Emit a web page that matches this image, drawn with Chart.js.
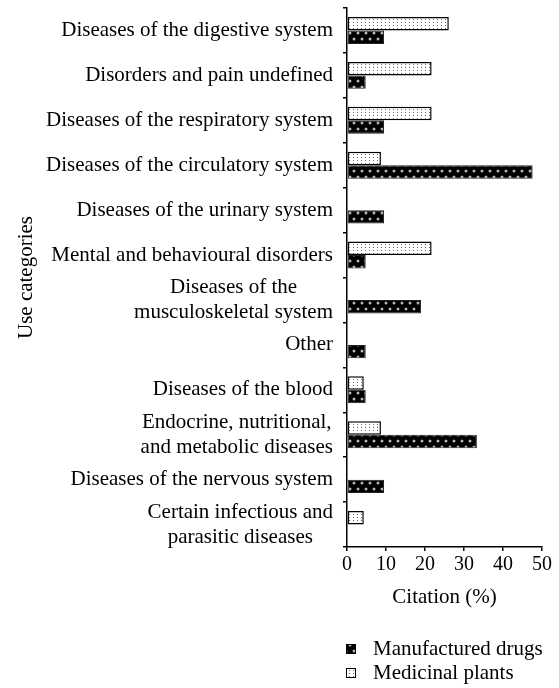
<!DOCTYPE html>
<html>
<head>
<meta charset="utf-8">
<script src="https://cdn.jsdelivr.net/npm/chart.js@4"></script>
<style>
    html, body { margin: 0; padding: 0; background: #fff; }
    #wrap { width: 559px; height: 688px; }
</style>
</head>
<body>
<div id="wrap"><canvas id="useChart" width="559" height="688"></canvas></div>
<script>
    // Data (citation %)
    var categories = [
        'Diseases of the digestive system',
        'Disorders and pain undefined',
        'Diseases of the respiratory system',
        'Diseases of the circulatory system',
        'Diseases of the urinary system',
        'Mental and behavioural disorders',
        ['Diseases of the', 'musculoskeletal system'],
        'Other',
        'Diseases of the blood',
        ['Endocrine, nutritional,', 'and metabolic diseases'],
        'Diseases of the nervous system',
        ['Certain infectious and', 'parasitic diseases']
    ];
    var manufacturedDrugs = [9.5, 4.8, 9.5, 47.6, 9.5, 4.8, 19.0, 4.8, 4.8, 33.3, 9.5, 0];
    var medicinalPlants = [26.1, 21.7, 21.7, 8.7, 0, 21.7, 0, 0, 4.3, 8.7, 0, 4.3];
    var xTicks = [0, 10, 20, 30, 40, 50];

    var FONT = '"Liberation Serif", "DejaVu Serif", serif';

    // Hatch patterns
    function makeDrugPattern(ctx) {
        var c = document.createElement('canvas');
        c.width = 8; c.height = 12;
        var p = c.getContext('2d');
        p.fillStyle = '#000';
        p.fillRect(0, 0, 8, 12);
        [[2, 3], [6, 9]].forEach(function (d) {
            p.fillStyle = '#a0a0a0';
            p.beginPath(); p.arc(d[0], d[1], 1.5, 0, Math.PI * 2); p.fill();
            p.fillStyle = '#fff';
            p.fillRect(d[0] - 0.5, d[1] - 0.5, 1, 1);
        });
        return ctx.createPattern(c, 'repeat');
    }

    function makePlantPattern(ctx) {
        var c = document.createElement('canvas');
        c.width = 4; c.height = 3;
        var p = c.getContext('2d');
        p.fillStyle = '#fff';
        p.fillRect(0, 0, 4, 3);
        p.fillStyle = '#6a6a6a';
        p.fillRect(1, 1, 1, 1);
        return ctx.createPattern(c, 'repeat');
    }

    var canvas = document.getElementById('useChart');
    var ctx = canvas.getContext('2d');
    var drugFill = makeDrugPattern(ctx);
    var plantFill = makePlantPattern(ctx);

    // Category labels, axis titles and legend drawn over the chart
    var decorations = {
        id: 'decorations',
        afterDraw: function (chart) {
            var c = chart.ctx;
            var y = chart.scales.y;
            var x = chart.scales.x;
            c.save();
            c.fillStyle = '#000';
            c.font = '21px ' + FONT;
            c.textBaseline = 'middle';

            // y category labels
            var right = chart.chartArea.left - 14;
            categories.forEach(function (lab, i) {
                var cy = y.getPixelForValue(i);
                if (Array.isArray(lab)) {
                    var w = Math.max.apply(null, lab.map(function (l) { return c.measureText(l).width; }));
                    c.textAlign = 'center';
                    lab.forEach(function (l, k) {
                        c.fillText(l, right - w / 2, cy + (k - (lab.length - 1) / 2) * 25);
                    });
                } else {
                    c.textAlign = 'right';
                    c.fillText(lab, right, cy);
                }
            });

            // axis titles
            c.textAlign = 'center';
            c.fillText('Citation (%)', (x.left + x.right) / 2, 597);
            c.save();
            c.translate(26, (chart.chartArea.top + chart.chartArea.bottom) / 2);
            c.rotate(-Math.PI / 2);
            c.fillText('Use categories', 0, 0);
            c.restore();

            // legend
            var items = [
                { label: 'Manufactured drugs', fill: drugFill, y: 649 },
                { label: 'Medicinal plants', fill: plantFill, y: 673 }
            ];
            c.textAlign = 'left';
            items.forEach(function (it) {
                c.fillStyle = it.fill;
                c.fillRect(346, it.y - 5, 10, 10);
                c.strokeStyle = '#000';
                c.lineWidth = 1;
                c.strokeRect(346.5, it.y - 4.5, 9, 9);
                c.fillStyle = '#000';
                c.fillText(it.label, 373, it.y);
            });
            c.restore();
        }
    };

    new Chart(ctx, {
        type: 'bar',
        data: {
            labels: categories,
            datasets: [{
                label: 'Medicinal plants',
                data: medicinalPlants,
                backgroundColor: plantFill,
                borderColor: '#000',
                borderWidth: 1.5,
                borderSkipped: false
            }, {
                label: 'Manufactured drugs',
                data: manufacturedDrugs,
                backgroundColor: drugFill,
                borderColor: '#222',
                borderWidth: 1,
                borderSkipped: false
            }]
        },
        options: {
            indexAxis: 'y',
            responsive: false,
            animation: false,
            devicePixelRatio: 1,
            categoryPercentage: 0.6,
            barPercentage: 1.0,
            layout: { padding: { left: 0, top: 8, right: 17, bottom: 81 } },
            plugins: {
                legend: { display: false },
                tooltip: { enabled: false }
            },
            scales: {
                x: {
                    min: 0,
                    max: 50,
                    afterBuildTicks: function (scale) {
                        scale.ticks = xTicks.map(function (v) { return { value: v }; });
                    },
                    afterFit: function (scale) { scale.height = 60; },
                    border: { color: '#000', width: 1.5 },
                    grid: { drawOnChartArea: false, drawTicks: true, tickLength: 4, color: '#000', lineWidth: 1.5 },
                    ticks: { color: '#000', padding: 2, font: { family: FONT, size: 20 } }
                },
                y: {
                    afterFit: function (scale) { scale.width = 347; },
                    border: { color: '#000', width: 1.5 },
                    grid: { drawOnChartArea: false, drawTicks: true, tickLength: 4, color: '#000', lineWidth: 1.5 },
                    ticks: { display: false }
                }
            }
        },
        plugins: [decorations]
    });
</script>
</body>
</html>
